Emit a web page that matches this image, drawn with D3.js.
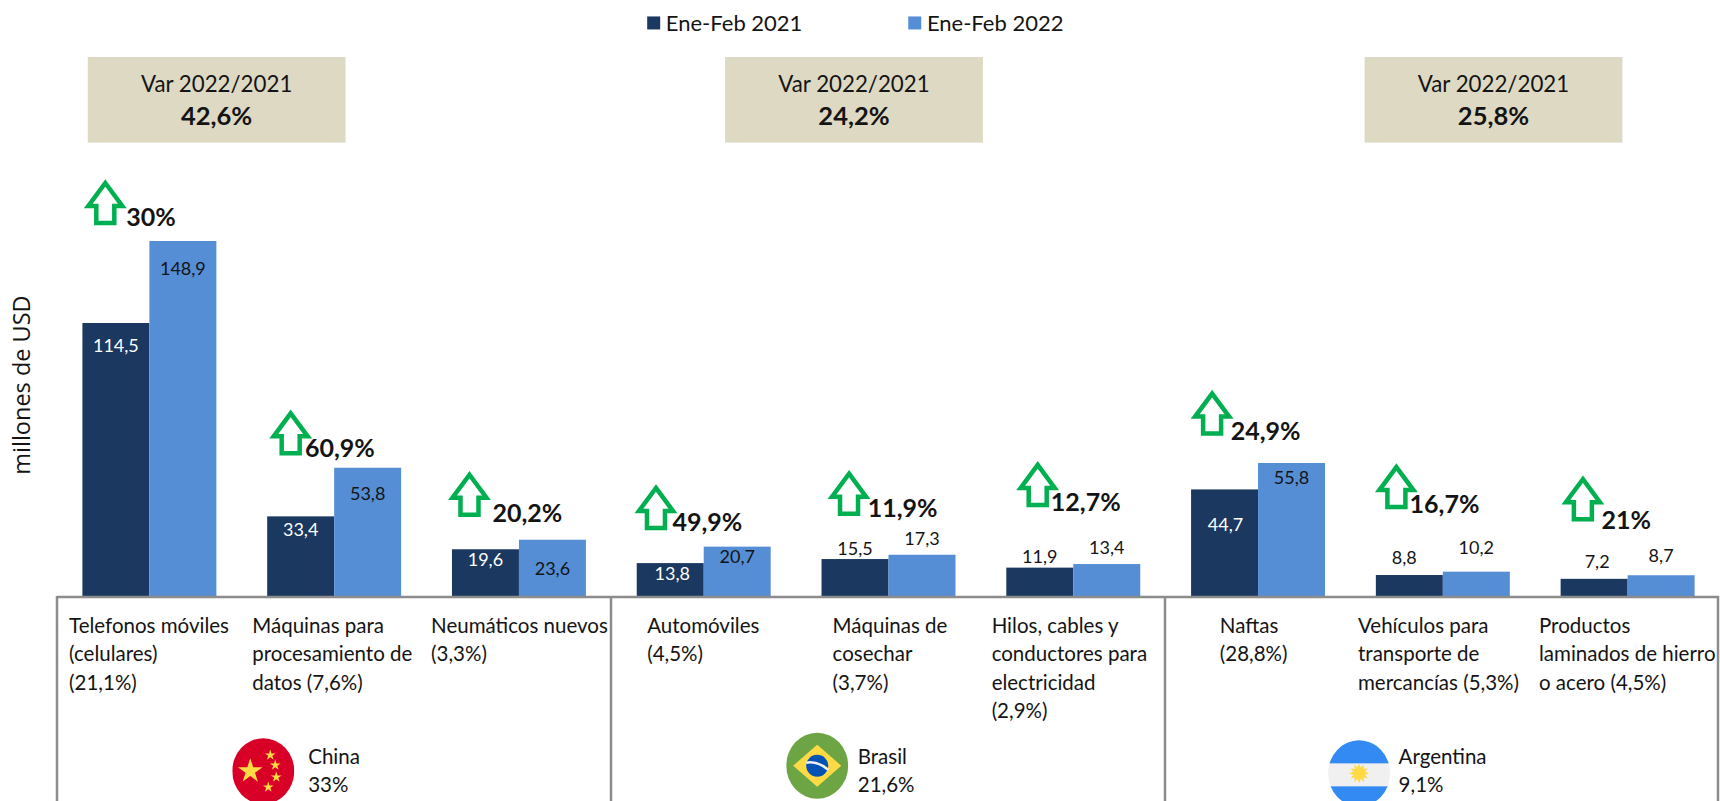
<!DOCTYPE html>
<html><head><meta charset="utf-8">
<script src="https://cdn.jsdelivr.net/npm/d3@7/dist/d3.min.js"></script>
<style>html,body{margin:0;padding:0;background:#fff;overflow:hidden}svg{display:block}text{font-family:Lato,"Open Sans",sans-serif;fill:#141414}</style>
</head><body><svg id="c" width="1720" height="801"></svg>
<script>
const categories=[["Telefonos móviles","(celulares)","(21,1%)"],["Máquinas para","procesamiento de","datos (7,6%)"],["Neumáticos nuevos","(3,3%)"],["Automóviles","(4,5%)"],["Máquinas de","cosechar","(3,7%)"],["Hilos, cables y","conductores para","electricidad","(2,9%)"],["Naftas","(28,8%)"],["Vehículos para","transporte de","mercancías (5,3%)"],["Productos","laminados de hierro","o acero (4,5%)"]];
const series2021=[114.5,33.4,19.6,13.8,15.5,11.9,44.7,8.8,7.2];
const series2022=[148.9,53.8,23.6,20.7,17.3,13.4,55.8,10.2,8.7];
const growth=["30%","60,9%","20,2%","49,9%","11,9%","12,7%","24,9%","16,7%","21%"];
const seriesNames=["Ene-Feb 2021","Ene-Feb 2022"];
const countries=["China","Brasil","Argentina"];
const countryShare=["33%","21,6%","9,1%"];
const countryVar=["42,6%","24,2%","25,8%"];

// layout only (annotation placement, not data)
const K=1720/1568;
const arrowPos=[[96,165],[265,375],[428,431],[598,443],[774,430],[946,422],[1105,357],[1273,424],[1443,435]];
const growthPos=[[115,206],[278,417],[449,476],[613,484],[791,471],[958,466],[1122,401],[1285,468],[1460,482]];
const labelY=[[315,245],[483,450],[510,518],[523,507],[500,491],[507,499],[478,435],[508,499],[512,506]];
const labelDx=[0,0,0,2,0,0,1,-5,3];
const labelLight=[true,true,true,true,false,false,true,false,false];
const catX=[63,230,393,590,759,904,1112,1238,1403];
const boxX=[80,661,1244];
const flagX=[240,745,1239],flagY=[703,698,705],shareX=[281,782,1275];

const svg=d3.select("#c");
const base=596;
const fmt=v=>String(v.toFixed(1)).replace(".",",");
const x=d3.scaleBand().domain(d3.range(9)).range([57,1720]).paddingInner(.275).paddingOuter(.1375);
const x2=d3.scaleBand().domain([0,1]).range([0,x.bandwidth()]);
const y=d3.scaleLinear().domain([0,148.9]).range([base,241]);
const color=d3.scaleOrdinal().domain(seriesNames).range(["#1a3860","#558ed5"]);

// legend
[[590,607],[828,845]].forEach((p,i)=>{
  svg.append("rect").attr("x",p[0]*K).attr("y",15*K).attr("width",13).attr("height",13).attr("fill",color(seriesNames[i]));
  svg.append("text").attr("x",p[1]*K).attr("y",21*K).attr("dy",".36em").attr("font-size",22).text(seriesNames[i]);
});
// var boxes
boxX.forEach((b,i)=>{
  svg.append("rect").attr("x",b*K).attr("y",52*K).attr("width",235*K).attr("height",78*K).attr("fill","#ddd9c3");
  svg.append("text").attr("x",(b+117.5)*K).attr("y",77*K).attr("dy",".36em").attr("text-anchor","middle").attr("font-size",22.3).text("Var 2022/2021");
  svg.append("text").attr("x",(b+117.5)*K).attr("y",106*K).attr("dy",".36em").attr("text-anchor","middle").attr("font-size",25.5).attr("font-weight",700).text(countryVar[i]);
});
// y label
svg.append("text").attr("transform",`translate(${20*K},${351*K}) rotate(-90)`).attr("dy",".36em").attr("text-anchor","middle").attr("font-size",23.5).style("font-family","'Open Sans'").text("millones de USD");
// bars
[series2021,series2022].forEach((s,k)=>{
  svg.append("g").selectAll("rect").data(s).join("rect")
    .attr("x",(d,i)=>x(i)+x2(k)).attr("width",x2.bandwidth())
    .attr("y",d=>y(d)).attr("height",d=>base-y(d)).attr("fill",color(seriesNames[k]));
  svg.append("g").selectAll("text").data(s).join("text")
    .attr("x",(d,i)=>x(i)+x2(k)+x2.bandwidth()/2+(k===0?labelDx[i]:0)).attr("y",(d,i)=>labelY[i][k]*K).attr("dy",".36em")
    .attr("text-anchor","middle").attr("font-size",18)
    .style("fill",(d,i)=>k===0&&labelLight[i]?"#fff":"#141414").text(fmt);
});
// frame
const frame=svg.append("g").attr("fill","none").attr("stroke","#8c8c8c").attr("stroke-width",2.5);
frame.append("line").attr("x1",57).attr("x2",1719).attr("y1",base+1).attr("y2",base+1);
[57,611,1165,1718].forEach(v=>frame.append("line").attr("x1",v).attr("x2",v).attr("y1",base).attr("y2",801));
// category labels
categories.forEach((c,i)=>{
  const t=svg.append("text").attr("x",catX[i]*K).attr("font-size",20.5);
  c.forEach((l,j)=>t.append("tspan").attr("x",catX[i]*K).attr("y",(570+j*26)*K).attr("dy",".36em").text(l));
});
// arrows
function arrowShape(){const p=d3.path();p.moveTo(0,1);p.lineTo(17,24);p.lineTo(9,24);p.lineTo(9,41);p.lineTo(-9,41);p.lineTo(-9,24);p.lineTo(-17,24);p.closePath();return p.toString();}
arrowPos.forEach((a,i)=>{
  svg.append("path").attr("d",arrowShape()).attr("transform",`translate(${a[0]*K},${a[1]*K+1})`).attr("fill","#fff").attr("stroke","#00b050").attr("stroke-width",4.5);
});
arrowPos.forEach((a,i)=>{
  svg.append("text").attr("x",growthPos[i][0]*K).attr("y",growthPos[i][1]*K).attr("font-size",25).attr("font-weight",700).text(growth[i]);
});
// flags
const defs=svg.append("defs");
countries.forEach((c,i)=>{
  const fx=flagX[i]*K,fy=flagY[i]*K,r=31;
  defs.append("clipPath").attr("id","f"+i).append("ellipse").attr("cx",fx).attr("cy",fy).attr("rx",r).attr("ry",r+2);
  const g=svg.append("g").attr("clip-path",`url(#f${i})`);
  if(i===0){
    g.append("rect").attr("x",fx-r).attr("y",fy-r-3).attr("width",2*r).attr("height",2*r+6).attr("fill","#d80027");
    const star=d3.symbol().type(d3.symbolStar);
    [[-13,0,190],[7,-16,36],[12,-6,36],[13,6,36],[5,16,36]].forEach(s=>g.append("path").attr("d",star.size(s[2])()).attr("transform",`translate(${fx+s[0]},${fy+s[1]})`).attr("fill","#ffda44"));
  }else if(i===1){
    g.append("rect").attr("x",fx-r).attr("y",fy-r-3).attr("width",2*r).attr("height",2*r+6).attr("fill","#6da544");
    g.append("path").attr("d",d3.line()([[fx-24,fy],[fx,fy-21],[fx+24,fy],[fx,fy+21]])+"Z").attr("fill","#ffda44");
    g.append("circle").attr("cx",fx).attr("cy",fy).attr("r",11).attr("fill","#0052b4");
    g.append("path").attr("d",`M${fx-11},${fy-3}Q${fx},${fy-5} ${fx+11},${fy+4}`).attr("fill","none").attr("stroke","#f0f0f0").attr("stroke-width",2.5);
  }else{
    g.append("rect").attr("x",fx-r).attr("y",fy-r-3).attr("width",2*r).attr("height",2*r+6).attr("fill","#f0f0f0");
    g.append("rect").attr("x",fx-r).attr("y",fy-r-3).attr("width",2*r).attr("height",24).attr("fill","#338af3");
    g.append("rect").attr("x",fx-r).attr("y",fy+13).attr("width",2*r).attr("height",24).attr("fill","#338af3");
    g.append("g").attr("transform",`translate(${fx},${fy})`).selectAll("path").data(d3.range(12)).join("path")
      .attr("d","M-1.8,-5L0,-10L1.8,-5Z").attr("transform",d=>`rotate(${d*30})`).attr("fill","#ffda44");
    g.append("circle").attr("cx",fx).attr("cy",fy).attr("r",6).attr("fill","#ffda44");
  }
  svg.append("text").attr("x",shareX[i]*K).attr("y",690*K).attr("dy",".36em").attr("font-size",20.5).text(c);
  svg.append("text").attr("x",shareX[i]*K).attr("y",715*K).attr("dy",".36em").attr("font-size",20.5).text(countryShare[i]);
});
</script></body></html>
